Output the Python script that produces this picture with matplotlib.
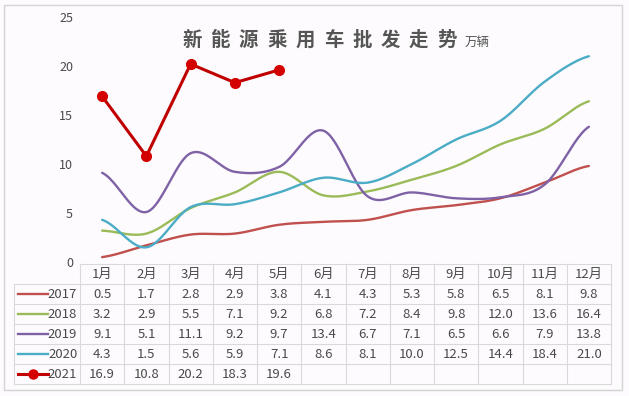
import matplotlib.pyplot as plt
import numpy as np
from matplotlib.patches import Rectangle

plt.rcParams['font.family'] = ['Noto Sans CJK SC', 'DejaVu Sans']

# 数据（万辆）
months = ['1月', '2月', '3月', '4月', '5月', '6月', '7月', '8月', '9月', '10月', '11月', '12月']
years = ['2017', '2018', '2019', '2020', '2021']
v2017 = [0.5, 1.7, 2.8, 2.9, 3.8, 4.1, 4.3, 5.3, 5.8, 6.5, 8.1, 9.8]
v2018 = [3.2, 2.9, 5.5, 7.1, 9.2, 6.8, 7.2, 8.4, 9.8, 12.0, 13.6, 16.4]
v2019 = [9.1, 5.1, 11.1, 9.2, 9.7, 13.4, 6.7, 7.1, 6.5, 6.6, 7.9, 13.8]
v2020 = [4.3, 1.5, 5.6, 5.9, 7.1, 8.6, 8.1, 10.0, 12.5, 14.4, 18.4, 21.0]
v2021 = [16.9, 10.8, 20.2, 18.3, 19.6]
series = [v2017, v2018, v2019, v2020, v2021]
colors = ['#c0504d', '#9bbb59', '#7f62a6', '#4bacc6', '#c00000']

W, H = 629, 396
txt = '#4a4a4a'
grid = '#d9d9d9'


def fx(px):
    return px / W


def fy(py):
    return 1 - py / H


def smooth(y, n=24):
    # 类似Excel平滑线的Catmull-Rom曲线
    p = np.asarray(y, float)
    p = np.concatenate([[p[0]], p, [p[-1]]])
    xs, ys = [], []
    t = np.linspace(0, 1, n, endpoint=False)
    for i in range(1, len(p) - 2):
        p0, p1, p2, p3 = p[i - 1], p[i], p[i + 1], p[i + 2]
        yy = 0.5 * ((2 * p1) + (-p0 + p2) * t + (2 * p0 - 5 * p1 + 4 * p2 - p3) * t ** 2
                    + (-p0 + 3 * p1 - 3 * p2 + p3) * t ** 3)
        xs.extend(i - 1 + t)
        ys.extend(yy)
    xs.append(len(y) - 1)
    ys.append(y[-1])
    return np.array(xs), np.array(ys)


fig = plt.figure(figsize=(6.29, 3.96), dpi=100, facecolor='#fdfbfd')
fig.patches.append(Rectangle((fx(4), fy(390)), (622 - 4) / W, (390 - 5) / H,
                             transform=fig.transFigure, fill=False,
                             edgecolor='#d4d4d4', lw=1))

# 折线图
ax = fig.add_axes([fx(80), fy(262), (611 - 80) / W, (262 - 17) / H])
ax.set_facecolor('none')
ax.set_xlim(-0.5, 11.5)
ax.set_ylim(0, 25)
for s in ax.spines.values():
    s.set_visible(False)
ax.set_xticks([])
ax.set_yticks(range(0, 26, 5))
ax.tick_params(axis='y', length=0, pad=5, labelsize=9, labelcolor=txt)

for vals, c in zip(series[:4], colors[:4]):
    sx, sy = smooth(vals)
    ax.plot(sx, sy, color=c, lw=1.7, solid_capstyle='round', clip_on=False)
ax.plot(range(len(v2021)), v2021, color=colors[4], lw=2.2, marker='o',
        ms=7, mfc='#d40000', mec='#d40000', clip_on=False)

# 标题
title = '新能源乘用车批发走势'
for i, ch in enumerate(title):
    fig.text(fx(192 + i * 28.3), fy(40), ch, fontsize=14, fontweight='bold',
             color='#555555', ha='center', va='center')
fig.text(fx(465), fy(42), '万辆', fontsize=9, color='#555555', ha='left', va='center')

# 数据表
lw = 66 / 44.25
tax = fig.add_axes([fx(14), fy(384), (611 - 14) / W, 120 / H])
tax.set_xlim(-0.5 - lw, 11.5)
tax.set_ylim(6, 0)
tax.axis('off')
left = -0.5 - lw
tax.plot([-0.5, 11.5], [0, 0], color=grid, lw=0.8, clip_on=False)
for r in range(1, 7):
    tax.plot([left, 11.5], [r, r], color=grid, lw=0.8, clip_on=False)
tax.plot([left, left], [1, 6], color=grid, lw=0.8, clip_on=False)
for i in range(13):
    tax.plot([i - 0.5, i - 0.5], [0, 6], color=grid, lw=0.8, clip_on=False)

for i, m in enumerate(months):
    tax.text(i, 0.5, m, ha='center', va='center', fontsize=9.5, color=txt)

for r, (yr, vals, c) in enumerate(zip(years, series, colors)):
    yy = r + 1.5
    if yr == '2021':
        tax.plot([left + 0.09, left + 0.77], [yy, yy], color=c, lw=2.2, clip_on=False)
        tax.plot([left + 0.43], [yy], 'o', color='#d40000', ms=6.5, clip_on=False)
    else:
        tax.plot([left + 0.09, left + 0.77], [yy, yy], color=c, lw=1.7, clip_on=False)
    tax.text(-0.56, yy, yr, ha='right', va='center', fontsize=9.5, color=txt)
    for i, v in enumerate(vals):
        tax.text(i, yy, f'{v:.1f}', ha='center', va='center', fontsize=9.5, color=txt)

fig.savefig('out.png', dpi=100, facecolor=fig.get_facecolor())
